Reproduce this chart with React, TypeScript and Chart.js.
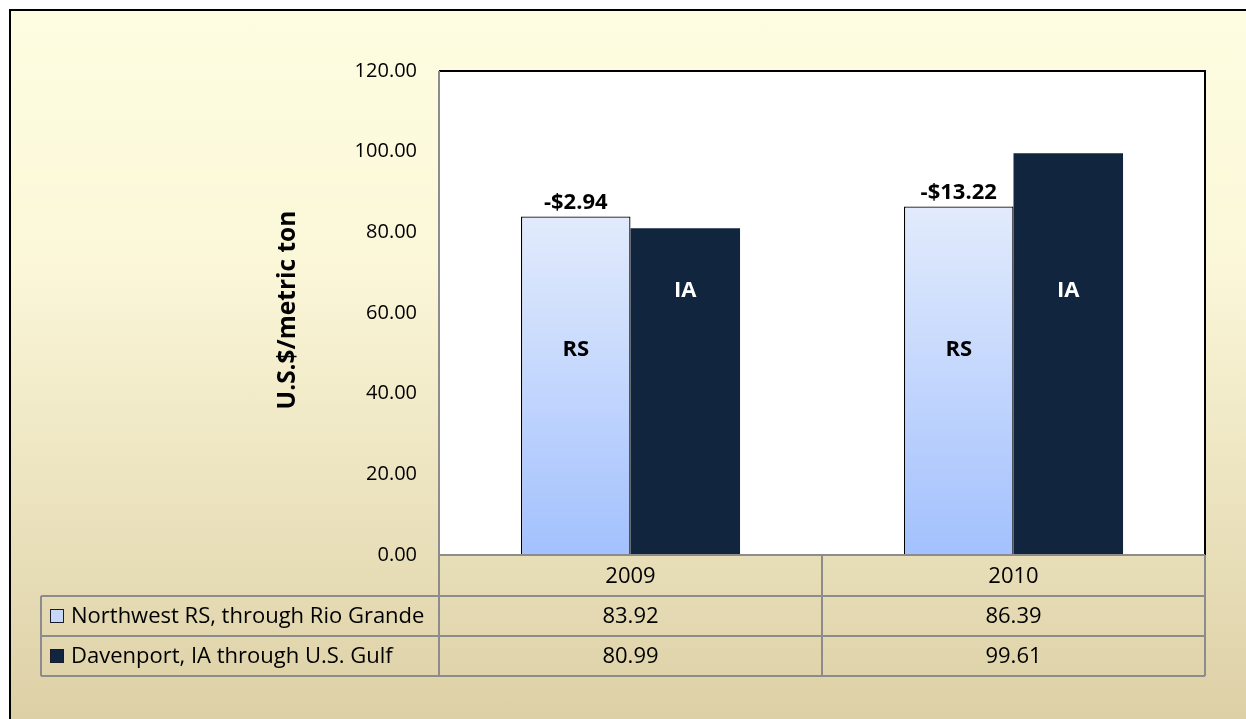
import React, { useEffect, useRef } from 'react';
import { Chart, registerables } from 'chart.js';

Chart.register(...registerables);

const categories = ['2009', '2010'];
const seriesNames = ['Northwest RS, through Rio Grande', 'Davenport, IA through U.S. Gulf'];
const rsValues = [83.92, 86.39];
const iaValues = [80.99, 99.61];
const spreadLabels = ['-$2.94', '-$13.22'];
const barTags = ['RS', 'IA'];
const yTitle = 'U.S.$/metric ton';
const yMin = 0;
const yMax = 120;
const yStep = 20;

const FONT = '"Open Sans", Lato, sans-serif';
const RS_TOP = '#e2ebfc';
const RS_BOTTOM = '#a3c1fe';
const IA_COLOR = '#12253f';
const GRID_GREY = '#8c8c8c';

const extrasPlugin = {
  id: 'extras',
  beforeDatasetsDraw(chart: any) {
    const { ctx, chartArea: a } = chart;
    ctx.save();
    ctx.fillStyle = '#fff';
    ctx.fillRect(a.left, a.top, a.right - a.left, a.bottom - a.top);
    ctx.restore();
  },
  afterDraw(chart: any) {
    const { ctx, chartArea: a, scales } = chart;
    const x = scales.x;
    const y = scales.y;
    const legendLeft = 41;
    const r0 = a.bottom;
    const r1 = a.bottom + 41;
    const r2 = a.bottom + 81;
    const r3 = a.bottom + 121;
    const mid = (x.getPixelForValue(0) + x.getPixelForValue(1)) / 2;

    ctx.save();
    // plot frame (top/right black)
    ctx.lineWidth = 2;
    ctx.strokeStyle = '#000';
    ctx.beginPath();
    ctx.moveTo(a.left, a.top);
    ctx.lineTo(a.right, a.top);
    ctx.lineTo(a.right, a.bottom);
    ctx.stroke();

    // grey table lines
    ctx.strokeStyle = GRID_GREY;
    ctx.beginPath();
    ctx.moveTo(a.left, r0); ctx.lineTo(a.right, r0);
    ctx.moveTo(legendLeft, r1); ctx.lineTo(a.right, r1);
    ctx.moveTo(legendLeft, r2); ctx.lineTo(a.right, r2);
    ctx.moveTo(legendLeft, r3); ctx.lineTo(a.right, r3);
    ctx.moveTo(a.left, a.top); ctx.lineTo(a.left, r3);
    ctx.moveTo(legendLeft, r1); ctx.lineTo(legendLeft, r3);
    ctx.moveTo(mid, r0); ctx.lineTo(mid, r3);
    ctx.moveTo(a.right, r0); ctx.lineTo(a.right, r3);
    ctx.stroke();

    // table text
    ctx.fillStyle = '#000';
    ctx.font = `22px ${FONT}`;
    ctx.textAlign = 'center';
    ctx.textBaseline = 'middle';
    const rowsData = [rsValues, iaValues];
    categories.forEach((c, i) => {
      const cx = x.getPixelForValue(i);
      ctx.fillText(c, cx, (r0 + r1) / 2 + 1);
      ctx.fillText(rowsData[0][i].toFixed(2), cx, (r1 + r2) / 2 + 1);
      ctx.fillText(rowsData[1][i].toFixed(2), cx, (r2 + r3) / 2 + 1);
    });

    // legend cells
    const rowMids = [(r1 + r2) / 2, (r2 + r3) / 2];
    seriesNames.forEach((name, i) => {
      const cy = rowMids[i];
      ctx.fillStyle = i === 0 ? '#c6d7f8' : IA_COLOR;
      ctx.fillRect(50, cy - 7, 14, 14);
      ctx.lineWidth = 1;
      ctx.strokeStyle = '#1a1a2a';
      ctx.strokeRect(50.5, cy - 6.5, 13, 13);
      ctx.fillStyle = '#000';
      ctx.textAlign = 'left';
      ctx.fillText(name, 71, cy + 1);
    });

    // y-axis title
    ctx.save();
    ctx.translate(288, (a.top + a.bottom) / 2 - 3);
    ctx.rotate(-Math.PI / 2);
    ctx.font = `bold 24.5px ${FONT}`;
    ctx.textAlign = 'center';
    ctx.textBaseline = 'middle';
    ctx.fillText(yTitle, 0, 0);
    ctx.restore();

    // bar labels
    const m0 = chart.getDatasetMeta(0);
    const m1 = chart.getDatasetMeta(1);
    ctx.font = `bold 22px ${FONT}`;
    ctx.textAlign = 'center';
    categories.forEach((_, i) => {
      const b0 = m0.data[i];
      const b1 = m1.data[i];
      ctx.fillStyle = '#000';
      ctx.textBaseline = 'bottom';
      ctx.fillText(spreadLabels[i], b0.x, b0.y - 3);
      ctx.textBaseline = 'middle';
      ctx.fillText(barTags[0], b0.x, y.getPixelForValue(51));
      ctx.fillStyle = '#fff';
      ctx.fillText(barTags[1], b1.x, y.getPixelForValue(65.5));
    });
    ctx.restore();
  },
};

export default function App() {
  const ref = useRef<HTMLCanvasElement>(null);

  useEffect(() => {
    if (!ref.current) return;
    const chart = new Chart(ref.current, {
      type: 'bar',
      data: {
        labels: categories,
        datasets: [
          {
            label: seriesNames[0],
            data: rsValues,
            backgroundColor: (ctx: any) => {
              const c = ctx.chart;
              const area = c.chartArea;
              if (!area || ctx.type !== 'data') return RS_BOTTOM;
              const top = c.scales.y.getPixelForValue(ctx.raw);
              const g = c.ctx.createLinearGradient(0, top, 0, area.bottom);
              g.addColorStop(0, RS_TOP);
              g.addColorStop(1, RS_BOTTOM);
              return g;
            },
            borderColor: '#000',
            borderWidth: 1.3,
            barPercentage: 1,
            categoryPercentage: 0.572,
          },
          {
            label: seriesNames[1],
            data: iaValues,
            backgroundColor: IA_COLOR,
            borderWidth: 0,
            barPercentage: 1,
            categoryPercentage: 0.572,
          },
        ],
      },
      options: {
        responsive: false,
        animation: false,
        devicePixelRatio: 1,
        layout: { padding: { left: 0, top: 71, right: 41, bottom: 164 } },
        plugins: {
          legend: { display: false },
          tooltip: { enabled: false },
        },
        scales: {
          x: { display: false },
          y: {
            min: yMin,
            max: yMax,
            afterFit: (s: any) => { s.width = 439; },
            ticks: {
              stepSize: yStep,
              padding: 22,
              color: '#000',
              font: { family: FONT, size: 20 },
              callback: (v: any) => Number(v).toFixed(2),
            },
            grid: { display: false, drawTicks: false },
            border: { display: false },
          },
        },
      },
      plugins: [extrasPlugin],
    });
    return () => chart.destroy();
  }, []);

  return (
    <div style={{ position: 'fixed', left: 0, top: 0, width: 1246, height: 719, background: '#fff', overflow: 'hidden' }}>
      <div
        style={{
          position: 'absolute', left: 9, top: 9, right: 0, bottom: 0,
          borderLeft: '2px solid #000', borderTop: '2px solid #000',
          background: 'linear-gradient(to bottom, #fefde1 0%, #fbf7d9 35%, #ddd0a6 100%)',
        }}
      />
      <canvas ref={ref} width={1246} height={719} style={{ position: 'absolute', left: 0, top: 0, width: 1246, height: 719 }} />
    </div>
  );
}
